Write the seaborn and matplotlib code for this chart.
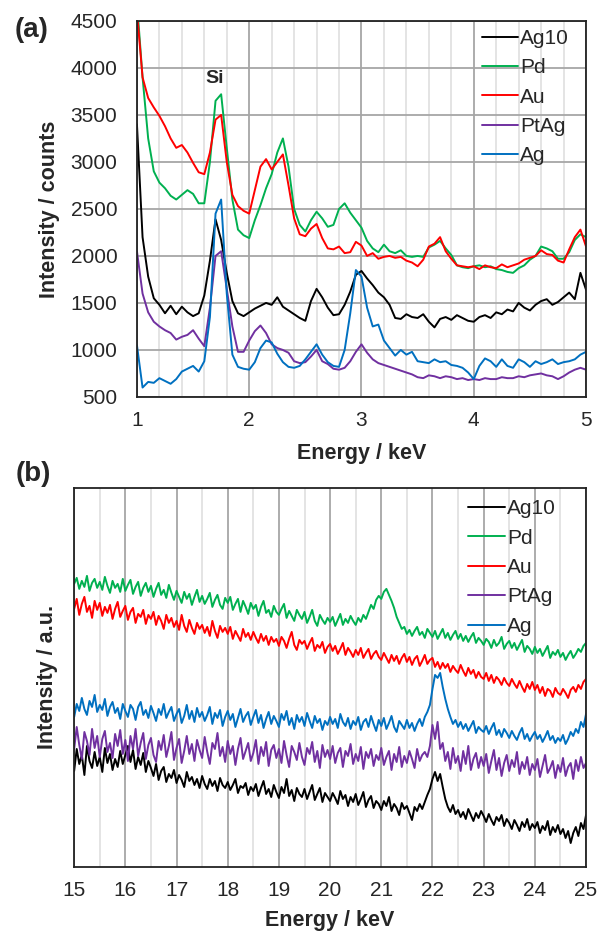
import numpy as np
import pandas as pd
import matplotlib
matplotlib.use('Agg')
import matplotlib.pyplot as plt
from matplotlib.ticker import MultipleLocator
import seaborn as sns

# samples and colours (legend order)
samples = ['Ag10', 'Pd', 'Au', 'PtAg', 'Ag']
colors = ['#000000', '#00B050', '#FF0000', '#7030A0', '#0070C0']

# (a) low energy EDX spectra, counts every 0.05 keV from 1 to 5 keV
energy_a = np.linspace(1, 5, 81)
ag10_a = [3400, 2200, 1780, 1550, 1480, 1390, 1470, 1380, 1460, 1400,
          1360, 1390, 1580, 1950, 2390, 2170, 1820, 1520, 1390, 1360,
          1400, 1440, 1470, 1500, 1480, 1560, 1460, 1420, 1380, 1340,
          1310, 1520, 1650, 1560, 1450, 1370, 1380, 1480, 1620, 1800,
          1840, 1760, 1690, 1610, 1560, 1480, 1340, 1330, 1380, 1350,
          1340, 1380, 1300, 1240, 1330, 1350, 1320, 1370, 1340, 1310,
          1300, 1350, 1370, 1340, 1400, 1380, 1430, 1410, 1500, 1450,
          1420, 1480, 1520, 1540, 1480, 1510, 1560, 1610, 1540, 1820,
          1640]
pd_a = [4700, 3900, 3250, 2900, 2780, 2720, 2640, 2600, 2650, 2700,
        2660, 2560, 2560, 3000, 3650, 3720, 3150, 2600, 2280, 2220,
        2190, 2380, 2540, 2720, 2870, 3100, 3250, 2950, 2500, 2330,
        2260, 2380, 2470, 2400, 2310, 2330, 2500, 2560, 2460, 2380,
        2300, 2160, 2080, 2040, 2120, 2050, 2030, 2060, 2000, 1990,
        2000, 1990, 2090, 2120, 2160, 2080, 2010, 1900, 1880, 1870,
        1890, 1900, 1880, 1890, 1860, 1850, 1830, 1820, 1870, 1900,
        1960, 2000, 2100, 2080, 2050, 1970, 1970, 2040, 2170, 2230,
        2200]
au_a = [4600, 3900, 3680, 3580, 3490, 3380, 3250, 3150, 3180, 3100,
        2990, 2890, 2870, 3100, 3450, 3500, 3000, 2650, 2530, 2480,
        2450, 2700, 2950, 3030, 2920, 3000, 3080, 2750, 2400, 2230,
        2210, 2290, 2340, 2190, 2080, 2070, 2100, 2030, 2040, 2150,
        2110, 2000, 2030, 1970, 1990, 2000, 1980, 1990, 1950, 1930,
        1890, 1960, 2100, 2130, 2200, 2050, 1970, 1900, 1890, 1880,
        1890, 1860, 1900, 1880, 1870, 1910, 1880, 1900, 1920, 1960,
        1980, 2000, 2060, 2020, 2010, 1950, 1930, 2070, 2200, 2280,
        2100]
ptag_a = [2050, 1600, 1400, 1300, 1250, 1210, 1180, 1110, 1140, 1160,
          1210, 1120, 1040, 1450, 2000, 2050, 1650, 1250, 980, 980,
          1100, 1200, 1260, 1180, 1060, 1020, 1000, 970, 880, 860,
          870, 930, 1000, 880, 850, 800, 790, 810, 880, 980,
          1060, 970, 900, 860, 840, 820, 800, 780, 760, 740,
          710, 700, 730, 720, 700, 720, 710, 690, 700, 680,
          690, 680, 700, 690, 690, 710, 700, 700, 720, 710,
          730, 740, 750, 730, 720, 690, 720, 760, 790, 810,
          790]
ag_a = [1050, 600, 660, 650, 700, 670, 640, 690, 770, 800,
        830, 770, 880, 1350, 2450, 2600, 1600, 950, 820, 800,
        790, 870, 1020, 1100, 1080, 960, 870, 820, 810, 830,
        900, 980, 1060, 950, 870, 830, 820, 1000, 1390, 1850,
        1780, 1450, 1250, 1270, 1100, 1020, 940, 1000, 950, 980,
        880, 870, 860, 900, 870, 880, 840, 830, 810, 760,
        690, 830, 910, 880, 820, 900, 830, 810, 900, 870,
        820, 880, 850, 870, 900, 850, 870, 880, 900, 950,
        980]

# (b) high energy spectra, arbitrary units every 0.05 keV from 15 to 25 keV
energy_b = np.linspace(15, 25, 201)
ag10_b = [96, 118, 103, 112, 92, 121, 106, 99, 115, 101,
          110, 95, 119, 104, 113, 97, 108, 100, 116, 103,
          112, 121, 105, 117, 98, 110, 102, 114, 95, 106,
          99, 91, 103, 87, 96, 100, 85, 93, 89, 97,
          84, 92, 87, 80, 95, 86, 90, 82, 88, 79,
          91, 83, 78, 88, 81, 86, 76, 89, 82, 79,
          85, 77, 82, 88, 74, 81, 79, 84, 72, 80,
          76, 83, 71, 79, 86, 73, 78, 70, 82, 75,
          69, 80, 74, 88, 71, 77, 66, 79, 73, 70,
          78, 68, 75, 82, 67, 73, 79, 65, 74, 70,
          66, 74, 69, 63, 76, 68, 72, 61, 70, 65,
          73, 62, 68, 75, 60, 67, 71, 59, 66, 63,
          57, 66, 61, 70, 56, 63, 59, 52, 64, 58,
          61, 54, 47, 60, 56, 63, 58, 65, 72, 78,
          88, 95, 86, 93, 80, 68, 60, 55, 62, 53,
          57, 50, 55, 48, 58, 52, 46, 54, 49, 56,
          51, 45, 53, 47, 42, 50, 46, 52, 41, 48,
          44, 38, 47, 42, 36, 45, 40, 48, 37, 43,
          39, 45, 34, 41, 37, 46, 32, 40, 35, 42,
          33, 38, 29, 36, 24, 34, 40, 31, 44, 38,
          52]
pd_b = [283, 289, 278, 286, 280, 291, 276, 284, 288, 279,
        285, 277, 290, 281, 274, 286, 279, 283, 275, 288,
        276, 282, 287, 273, 280, 285, 271, 279, 284, 275,
        281, 270, 278, 284, 272, 277, 269, 282, 274, 267,
        276, 270, 264, 275, 268, 273, 262, 270, 277, 265,
        271, 263, 268, 274, 260, 267, 272, 262, 258, 269,
        264, 270, 257, 263, 268, 255, 266, 260, 253, 264,
        258, 262, 251, 260, 266, 254, 257, 250, 261, 255,
        252, 258, 263, 249, 256, 251, 246, 257, 252, 248,
        255, 244, 250, 257, 246, 241, 252, 247, 243, 249,
        245, 250, 241, 247, 253, 242, 248, 244, 251, 246,
        242, 249, 245, 252, 248, 255, 262, 258, 267, 271,
        268, 275, 278, 272, 266, 259, 250, 244, 238, 240,
        233, 237, 231, 236, 240, 232, 235, 229, 238, 234,
        230, 236, 228, 233, 238, 229, 234, 227, 232, 236,
        228, 233, 226, 231, 225, 230, 234, 224, 229, 226,
        222, 228, 225, 219, 227, 221, 224, 230, 218, 223,
        226, 219, 224, 217, 222, 227, 215, 221, 218, 213,
        220, 214, 218, 211, 216, 221, 209, 215, 212, 217,
        210, 214, 207, 212, 216, 209, 213, 218, 215, 221,
        224]
au_b = [258, 268, 252, 263, 270, 255, 261, 249, 266, 257,
        264, 251, 260, 254, 262, 248, 258, 265, 250, 256,
        261, 247, 255, 259, 244, 253, 250, 257, 243, 252,
        248, 255, 242, 251, 246, 238, 252, 244, 249, 240,
        246, 237, 252, 241, 235, 247, 239, 233, 244, 238,
        242, 234, 240, 231, 246, 236, 229, 241, 235, 239,
        233, 240, 228, 236, 231, 226, 238, 230, 234, 227,
        235, 229, 224, 233, 226, 231, 222, 230, 225, 228,
        221, 230, 226, 219, 228, 235, 222, 217, 227, 223,
        226, 218, 224, 229, 216, 222, 219, 225, 214, 220,
        223, 216, 221, 213, 218, 224, 212, 219, 215, 210,
        217, 212, 219, 209, 214, 218, 208, 213, 216, 210,
        207, 214, 209, 204, 212, 206, 211, 203, 209, 213,
        205, 210, 202, 208, 211, 201, 206, 212, 203, 207,
        209, 200, 205, 198, 204, 199, 203, 195, 201, 197,
        194, 202, 196, 191, 199, 193, 197, 189, 195, 190,
        188, 194, 186, 192, 184, 190, 187, 182, 189, 184,
        181, 188, 183, 179, 186, 180, 175, 183, 178, 185,
        177, 182, 174, 180, 171, 178, 176, 170, 179, 174,
        172, 178, 174, 169, 177, 180, 175, 182, 178, 185,
        188]
ptag_b = [118, 140, 122, 108, 135, 126, 112, 138, 119, 131,
          110, 128, 136, 115, 124, 109, 133, 121, 137, 113,
          127, 106, 131, 118, 138, 111, 124, 134, 108, 122,
          129, 112, 105, 126, 117, 132, 110, 121, 135, 107,
          119, 128, 104, 116, 131, 113, 123, 106, 127, 117,
          109, 130, 115, 103, 124, 118, 134, 111, 120, 105,
          126, 113, 121, 102, 118, 129, 108, 116, 124, 106,
          114, 127, 103, 120, 111, 125, 101, 117, 122, 109,
          118, 104, 126, 112, 100, 121, 115, 107, 124, 110,
          102, 119, 113, 125, 105, 116, 99, 122, 110, 117,
          108, 121, 104, 114, 119, 100, 116, 111, 123, 103,
          113, 106, 120, 98, 115, 109, 118, 101, 112, 107,
          119, 102, 110, 116, 97, 113, 105, 120, 100, 111,
          104, 116, 108, 99, 118, 106, 112, 115, 110, 121,
          142, 128, 145, 118, 124, 106, 115, 98, 119, 104,
          111, 96, 116, 103, 121, 97, 108, 114, 99, 110,
          101, 113, 94, 106, 117, 97, 109, 91, 104, 112,
          96, 107, 100, 115, 93, 105, 98, 110, 92, 103,
          97, 108, 90, 101, 112, 94, 99, 106, 89, 102,
          95, 109, 91, 100, 104, 88, 107, 96, 110, 99,
          104]
ag_b = [150, 163, 156, 169, 158, 152, 166, 160, 172, 155,
        162, 157, 168, 151, 160, 165, 154, 159, 148, 163,
        156, 150, 162, 158, 147, 160, 165, 152, 157, 149,
        161, 154, 146, 158, 152, 163, 149, 155, 160, 146,
        153, 158, 144, 151, 162, 148, 156, 145, 159, 150,
        155, 146, 152, 160, 143, 154, 149, 157, 141, 150,
        156, 147, 153, 140, 149, 158, 145, 151, 155, 142,
        150, 157, 144, 152, 139, 148, 155, 143, 151, 146,
        140, 153, 147, 156, 142, 149, 138, 152, 145, 150,
        141, 154, 146, 139, 151, 144, 148, 137, 146, 142,
        150, 143, 148, 139, 153, 145, 141, 149, 138, 146,
        142, 150, 137, 145, 148, 140, 151, 143, 136, 147,
        141, 149, 138, 144, 151, 140, 135, 146, 142, 138,
        147, 139, 144, 136, 143, 148, 141, 150, 155, 162,
        178, 192, 189, 194, 180, 168, 158, 150, 143, 147,
        140, 145, 138, 143, 136, 141, 146, 134, 140, 137,
        135, 141, 133, 139, 144, 132, 137, 130, 138, 134,
        129, 136, 131, 127, 134, 139, 128, 133, 126, 131,
        135, 128, 132, 125, 130, 136, 127, 131, 124, 129,
        126, 132, 123, 128, 135, 131, 138, 134, 145, 140,
        153]


def to_long(energy, series):
    # stack the series into one long frame for seaborn's hue
    frames = []
    for name, vals in zip(samples, series):
        frames.append(pd.DataFrame({'Energy': energy, 'Intensity': vals, 'Sample': name}))
    return pd.concat(frames, ignore_index=True)


def style_axes(ax, minor_step, hgrid):
    ax.xaxis.set_major_locator(MultipleLocator(1))
    ax.xaxis.set_minor_locator(MultipleLocator(minor_step))
    ax.grid(which='minor', axis='x', color='#E2E2E2', lw=1.3)
    ax.grid(which='major', axis='both' if hgrid else 'x', color='#A6A6A6', lw=1.3)
    ax.set_axisbelow(True)
    ax.tick_params(which='both', length=0, labelsize=15)
    ax.tick_params(axis='x', pad=10)
    ax.tick_params(axis='y', pad=14)
    for s in ax.spines.values():
        s.set_color('#222222')
        s.set_linewidth(1.3)


def add_legend(ax, x, y):
    h, l = ax.get_legend_handles_labels()
    ax.legend(h, l, loc='upper left', bbox_to_anchor=(x, y), frameon=False,
              fontsize=15, handlelength=1.75, handletextpad=0.1,
              labelspacing=0.5, borderpad=0, borderaxespad=0)


sns.set_style('white')
plt.rcParams['font.family'] = ['Liberation Sans', 'DejaVu Sans']

fig = plt.figure(figsize=(5.98, 9.34), dpi=100)
ax1 = fig.add_axes([0.229, 0.575, 0.751, 0.4026])
ax2 = fig.add_axes([0.124, 0.0717, 0.856, 0.406])

# panel (a)
df_a = to_long(energy_a, [ag10_a, pd_a, au_a, ptag_a, ag_a])
sns.lineplot(data=df_a, x='Energy', y='Intensity', hue='Sample', hue_order=samples,
             palette=colors, estimator=None, sort=False, linewidth=1.4, ax=ax1)
ax1.set_xlim(1, 5)
ax1.set_ylim(500, 4500)
ax1.yaxis.set_major_locator(MultipleLocator(500))
style_axes(ax1, 0.2, True)
ax1.set_xlabel('Energy / keV', fontsize=15.5, fontweight='bold')
ax1.set_ylabel('Intensity / counts', fontsize=15.5, fontweight='bold')
ax1.xaxis.set_label_coords(0.5, -0.122)
ax1.yaxis.set_label_coords(-0.171, 0.5)
ax1.text(1.69, 3890, 'Si', ha='center', va='center', fontsize=14, fontweight='bold')
add_legend(ax1, 0.768, 0.979)

# panel (b)
df_b = to_long(energy_b, [ag10_b, pd_b, au_b, ptag_b, ag_b])
sns.lineplot(data=df_b, x='Energy', y='Intensity', hue='Sample', hue_order=samples,
             palette=colors, estimator=None, sort=False, linewidth=1.4, ax=ax2)
ax2.set_xlim(15, 25)
ax2.set_ylim(0, 379)
ax2.set_yticks([])
style_axes(ax2, 0.5, False)
ax2.set_xlabel('Energy / keV', fontsize=15.5, fontweight='bold')
ax2.set_ylabel('Intensity / a.u.', fontsize=15.5, fontweight='bold')
ax2.xaxis.set_label_coords(0.5, -0.113)
ax2.yaxis.set_label_coords(-0.031, 0.5)
add_legend(ax2, 0.770, 0.970)

fig.text(32 / 598, 1 - 30 / 934, '(a)', ha='center', va='center', fontsize=20, fontweight='bold')
fig.text(33 / 598, 1 - 474 / 934, '(b)', ha='center', va='center', fontsize=20, fontweight='bold')

fig.savefig('out.png', dpi=100)
